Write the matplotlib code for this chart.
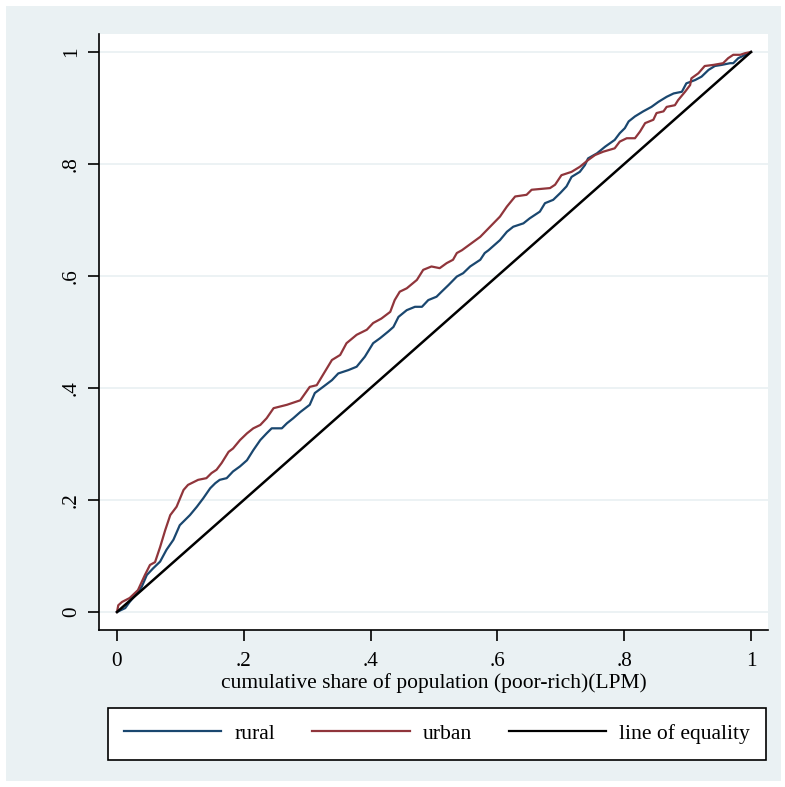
import matplotlib
matplotlib.use("Agg")
import matplotlib.pyplot as plt
from matplotlib.patches import Rectangle

# cumulative share of population (x) and cumulative share (y)
rural_x = [0.0, 0.013, 0.020, 0.031, 0.039, 0.047, 0.057, 0.068, 0.078, 0.089, 0.099, 0.107, 0.115,
           0.126, 0.136, 0.147, 0.155, 0.162, 0.173, 0.183, 0.194, 0.205, 0.215, 0.226, 0.236, 0.244,
           0.260, 0.268, 0.278, 0.289, 0.304, 0.312, 0.325, 0.339, 0.349, 0.365, 0.378, 0.391, 0.404,
           0.415, 0.428, 0.436, 0.444, 0.457, 0.470, 0.481, 0.491, 0.504, 0.512, 0.523, 0.536, 0.546,
           0.557, 0.573, 0.580, 0.586, 0.604, 0.615, 0.625, 0.641, 0.651, 0.667, 0.675, 0.688, 0.699,
           0.709, 0.717, 0.730, 0.738, 0.743, 0.757, 0.770, 0.785, 0.793, 0.801, 0.807, 0.817, 0.830,
           0.843, 0.854, 0.867, 0.878, 0.891, 0.898, 0.912, 0.922, 0.933, 0.943, 0.954, 0.967, 0.972,
           0.980, 0.991, 1.0]
rural_y = [0.0, 0.007, 0.018, 0.033, 0.045, 0.066, 0.078, 0.090, 0.111, 0.129, 0.155, 0.164, 0.173,
           0.188, 0.203, 0.221, 0.230, 0.236, 0.239, 0.251, 0.260, 0.271, 0.289, 0.307, 0.319, 0.328,
           0.328, 0.337, 0.346, 0.357, 0.370, 0.391, 0.402, 0.414, 0.426, 0.432, 0.438, 0.456, 0.480,
           0.489, 0.501, 0.509, 0.527, 0.539, 0.545, 0.545, 0.557, 0.563, 0.572, 0.584, 0.599, 0.605,
           0.617, 0.629, 0.641, 0.646, 0.664, 0.679, 0.688, 0.694, 0.703, 0.715, 0.730, 0.736, 0.748,
           0.760, 0.777, 0.786, 0.798, 0.810, 0.819, 0.831, 0.843, 0.855, 0.864, 0.876, 0.885, 0.894,
           0.902, 0.911, 0.920, 0.926, 0.929, 0.944, 0.950, 0.956, 0.968, 0.975, 0.977, 0.980, 0.980,
           0.989, 0.995, 1.0]

urban_x = [0.0, 0.002, 0.008, 0.020, 0.033, 0.044, 0.052, 0.060, 0.068, 0.076, 0.084, 0.094, 0.105,
           0.112, 0.128, 0.141, 0.149, 0.157, 0.165, 0.176, 0.183, 0.194, 0.205, 0.215, 0.226, 0.236,
           0.247, 0.268, 0.289, 0.304, 0.315, 0.331, 0.339, 0.352, 0.362, 0.378, 0.394, 0.404, 0.417,
           0.431, 0.438, 0.446, 0.457, 0.473, 0.483, 0.496, 0.509, 0.520, 0.530, 0.536, 0.544, 0.573,
           0.604, 0.615, 0.628, 0.646, 0.654, 0.683, 0.691, 0.701, 0.717, 0.730, 0.743, 0.754, 0.767,
           0.785, 0.793, 0.804, 0.817, 0.825, 0.833, 0.846, 0.851, 0.862, 0.867, 0.880, 0.885, 0.896,
           0.904, 0.906, 0.917, 0.927, 0.941, 0.956, 0.964, 0.972, 0.983, 0.991, 1.0]
urban_y = [0.0, 0.012, 0.018, 0.025, 0.039, 0.066, 0.084, 0.089, 0.116, 0.146, 0.173, 0.188, 0.218,
           0.227, 0.236, 0.239, 0.248, 0.254, 0.266, 0.286, 0.292, 0.307, 0.319, 0.328, 0.334, 0.346,
           0.364, 0.370, 0.378, 0.402, 0.405, 0.435, 0.450, 0.459, 0.480, 0.495, 0.504, 0.516, 0.524,
           0.536, 0.557, 0.572, 0.578, 0.593, 0.611, 0.617, 0.614, 0.623, 0.629, 0.641, 0.646, 0.670,
           0.706, 0.724, 0.742, 0.745, 0.754, 0.757, 0.763, 0.780, 0.786, 0.795, 0.807, 0.816, 0.822,
           0.828, 0.840, 0.846, 0.846, 0.858, 0.873, 0.879, 0.891, 0.894, 0.902, 0.905, 0.914, 0.929,
           0.941, 0.953, 0.962, 0.975, 0.977, 0.980, 0.989, 0.995, 0.995, 0.998, 1.0]

equality = [0.0, 1.0]

tick_vals = [0, 0.2, 0.4, 0.6, 0.8, 1]
tick_labels = ["0", ".2", ".4", ".6", ".8", "1"]

plt.rcParams['font.family'] = ['Liberation Serif', 'DejaVu Serif']

W, H = 785, 787
fig = plt.figure(figsize=(W / 100, H / 100), dpi=100, facecolor="white")
bg = "#eaf1f3"
fig.patches.append(Rectangle((6 / W, 1 - 781 / H), 775 / W, 775 / H, transform=fig.transFigure,
                             facecolor=bg, edgecolor="none", zorder=-10))

ax = fig.add_axes([99 / W, 1 - 630 / H, 669 / W, 596 / H])
ax.set_zorder(2)
ax.set_facecolor("white")
ax.set_xlim(-18 / 634, 1 + 17 / 634)
ax.set_ylim(-18 / 560, 1 + 18 / 560)

ax.plot(rural_x, rural_y, color="#1a476f", lw=1.6, label="rural", zorder=3)
ax.plot(urban_x, urban_y, color="#90353b", lw=1.6, label="urban", zorder=3)
ax.plot(equality, equality, color="black", lw=1.8, label="line of equality", zorder=4)

for s in ["top", "right"]:
    ax.spines[s].set_visible(False)
for s in ["left", "bottom"]:
    ax.spines[s].set_linewidth(1.2)

ax.set_xticks(tick_vals)
ax.set_xticklabels(tick_labels)
ax.set_yticks(tick_vals)
ax.set_yticklabels(tick_labels, rotation=90, va="center")
ax.tick_params(axis="both", direction="out", length=8, width=1.2, labelsize=15.3)
ax.tick_params(axis="x", pad=8)
ax.tick_params(axis="y", pad=5)
ax.yaxis.grid(True, color=bg, lw=1.3)
ax.xaxis.grid(False)
ax.set_axisbelow(True)

ax.set_xlabel("cumulative share of population (poor-rich)(LPM)", fontsize=15.5, labelpad=1)

leg = fig.legend(loc="center", bbox_to_anchor=((107 + 767) / 2 / W, 1 - 734 / H), ncol=3,
                 fontsize=15.6, handlelength=4.5, handletextpad=0.6, columnspacing=1.7,
                 frameon=True, fancybox=False, edgecolor="black", facecolor="white",
                 framealpha=1, borderpad=0.75)
leg.set_zorder(3)
leg.get_frame().set_linewidth(1.2)
for l in leg.get_lines():
    l.set_linewidth(1.6)

fig.savefig("out.png", dpi=100, facecolor="white")
